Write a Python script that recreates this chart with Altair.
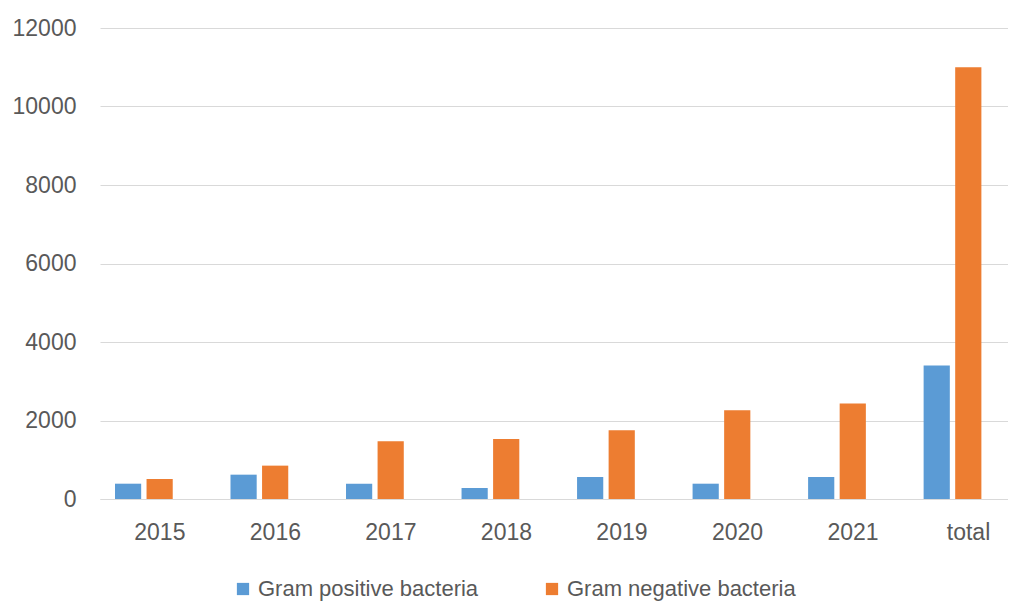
import altair as alt
import pandas as pd

years = ["2015", "2016", "2017", "2018", "2019", "2020", "2021", "total"]
positive = [390, 620, 390, 280, 560, 390, 560, 3400]
negative = [510, 850, 1470, 1530, 1750, 2260, 2430, 11000]
series = ["Gram positive bacteria", "Gram negative bacteria"]
colors = ["#5b9bd5", "#ed7d31"]
y_ticks = [0, 2000, 4000, 6000, 8000, 10000, 12000]

rows = []
for i, yr in enumerate(years):
    rows.append({"year": yr, "series": series[0], "value": positive[i]})
    rows.append({"year": yr, "series": series[1], "value": negative[i]})
df = pd.DataFrame(rows)

FONT = "Liberation Sans"
GREY = "#595959"

chart = alt.Chart(df).mark_bar().encode(
    x=alt.X("year:N", sort=years,
            scale=alt.Scale(paddingInner=0.5, paddingOuter=0.18, align=0.36),
            axis=alt.Axis(title=None, labelAngle=0, ticks=False, domain=True,
                          domainColor="#d9d9d9", labelFont=FONT, labelFontSize=23,
                          labelColor=GREY, labelPadding=22, labelOffset=16,
                          grid=False)),
    xOffset=alt.XOffset("series:N", sort=series,
                        scale=alt.Scale(paddingInner=0.17, paddingOuter=0)),
    y=alt.Y("value:Q",
            scale=alt.Scale(domain=[0, 12000], nice=False),
            axis=alt.Axis(title=None, values=y_ticks, ticks=False, domain=False,
                          format="d",
                          gridColor="#d9d9d9", gridWidth=1.2,
                          labelFont=FONT, labelFontSize=23, labelColor=GREY,
                          labelPadding=24)),
    color=alt.Color("series:N", sort=series,
                    scale=alt.Scale(domain=series, range=colors),
                    legend=alt.Legend(title=None, orient="none", direction="horizontal",
                                      legendX=132, legendY=550,
                                      symbolType="square", symbolSize=150,
                                      symbolStrokeWidth=0, labelFont=FONT,
                                      labelFontSize=22, labelColor=GREY,
                                      labelLimit=0,
                                      columnPadding=62, symbolOffset=0)),
).properties(
    width=908,
    height=471,
    padding={"left": 92, "top": 20, "right": 0, "bottom": 104},
    autosize=alt.AutoSizeParams(type="none"),
).configure_view(stroke=None)

chart.save("out.html", embed_options={"renderer": "svg", "actions": False})
